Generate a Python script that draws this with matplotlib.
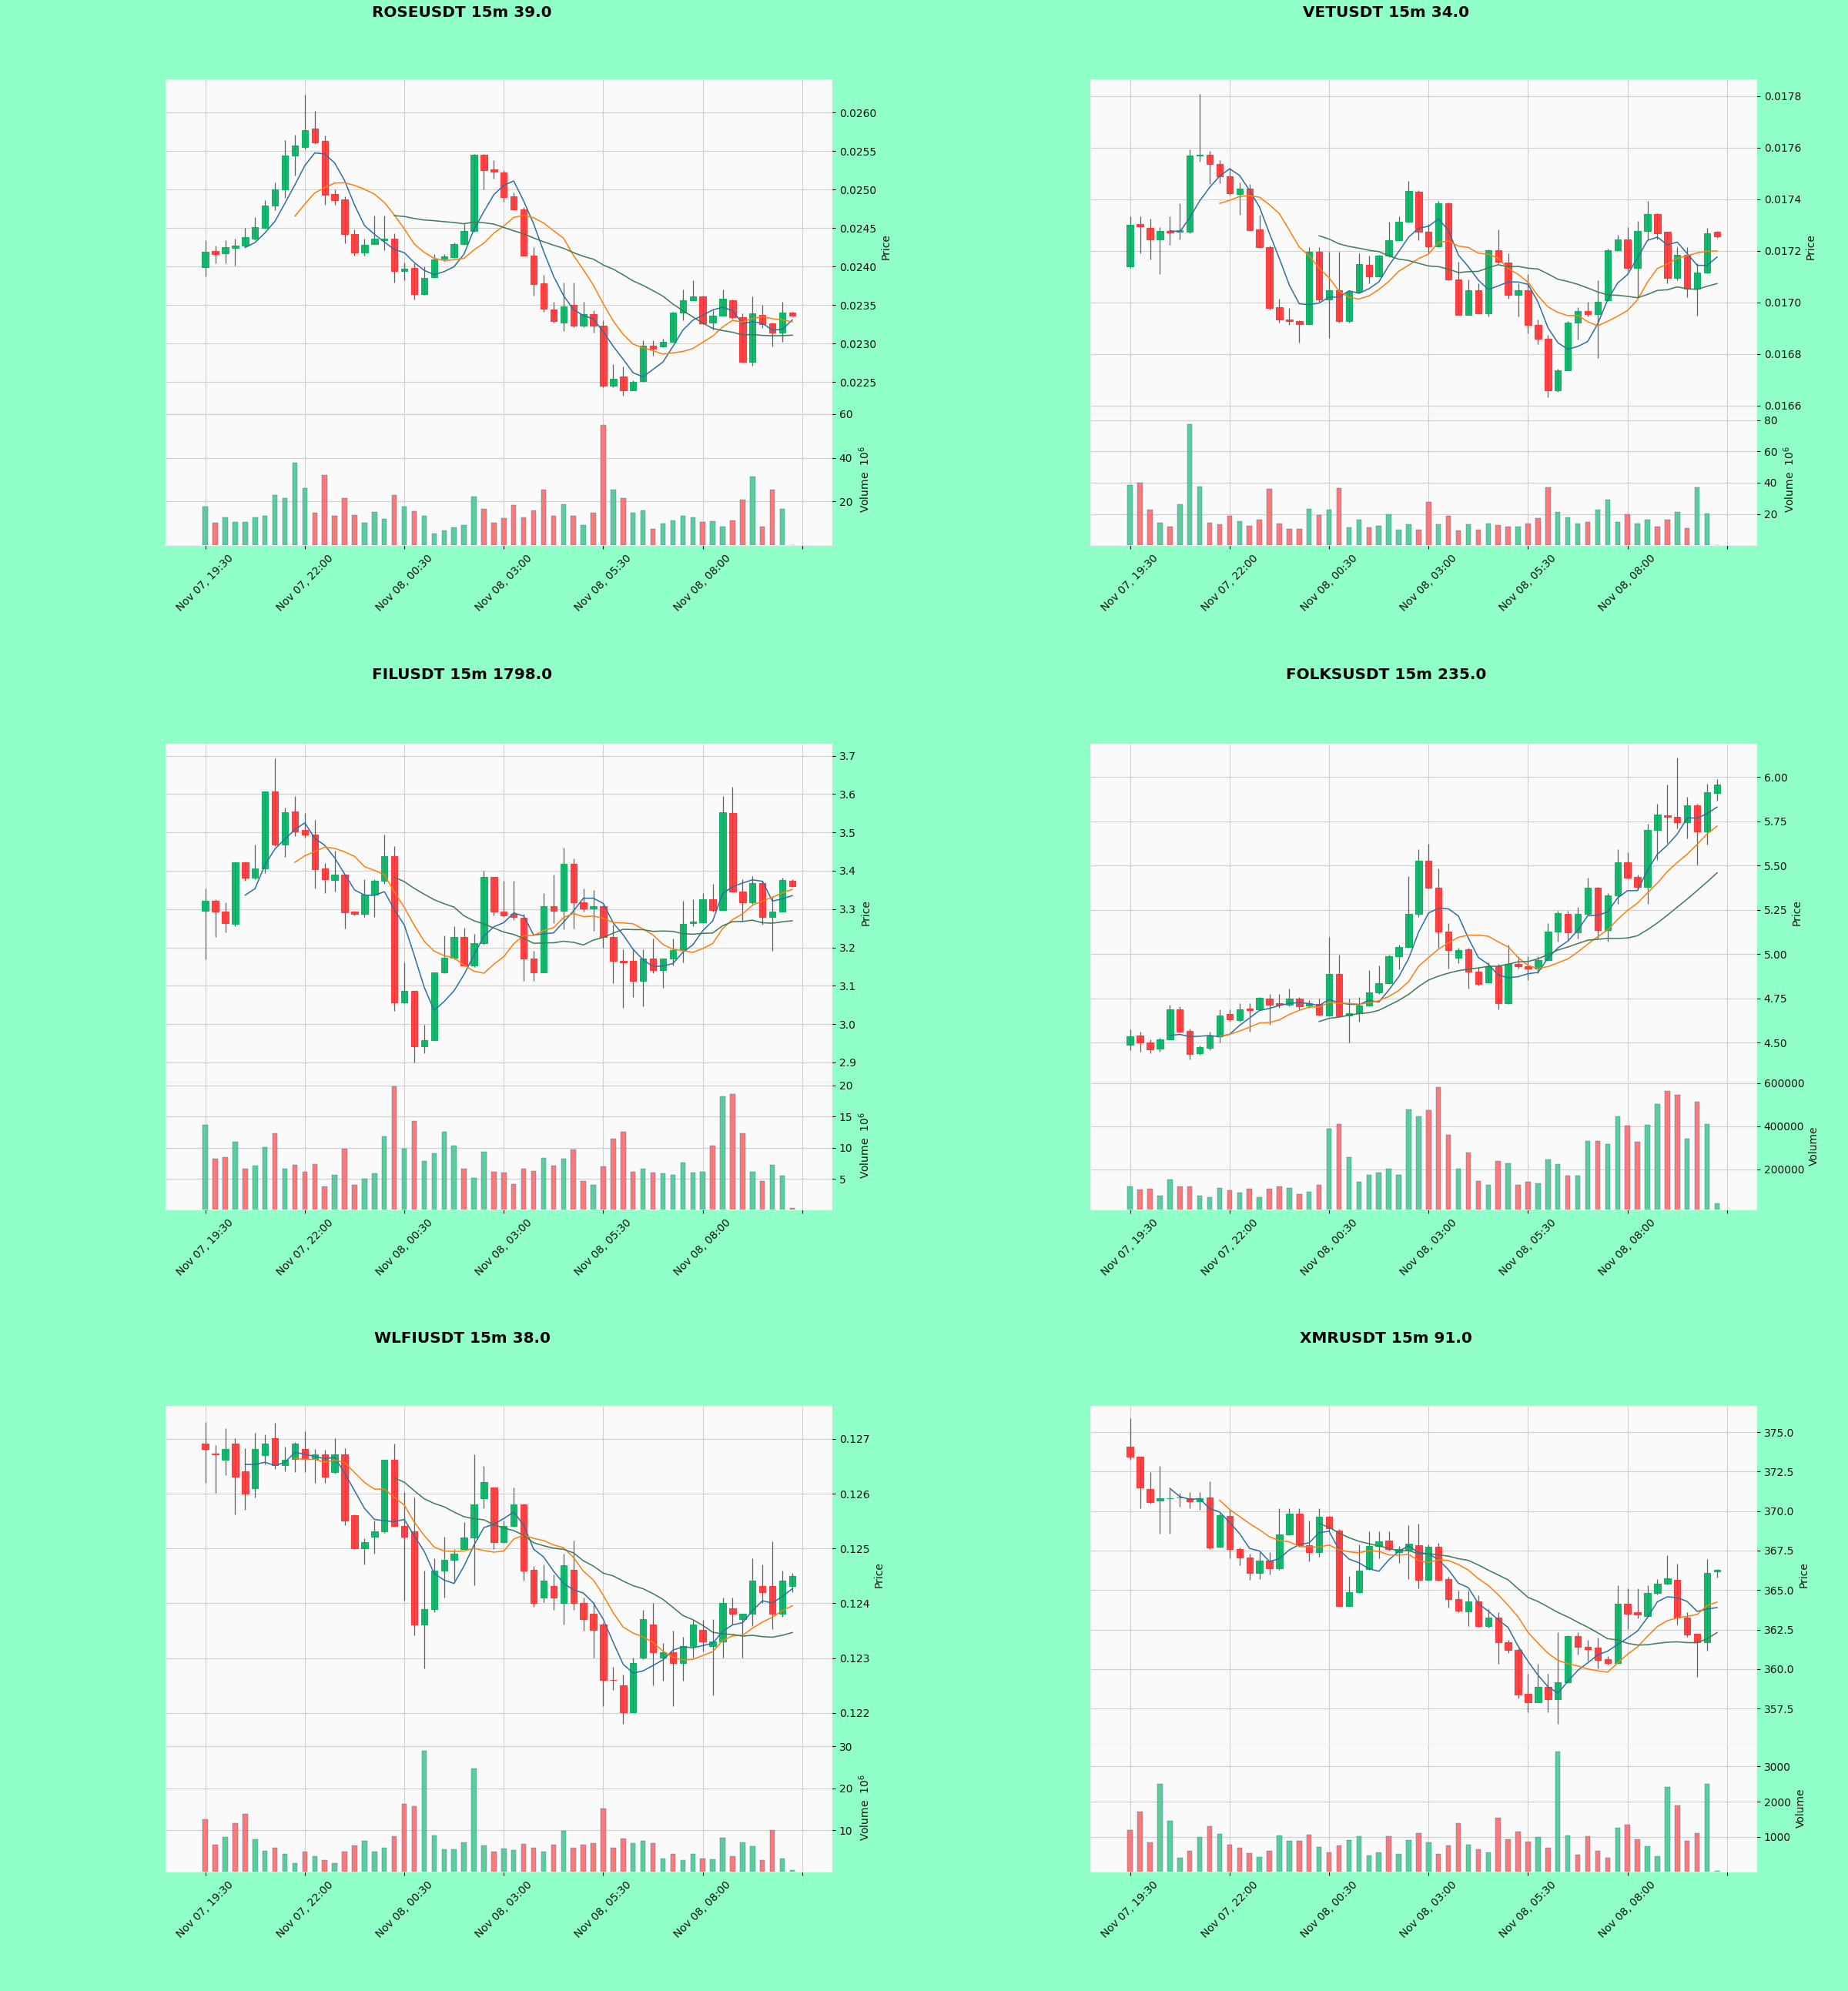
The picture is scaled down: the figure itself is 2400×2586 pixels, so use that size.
import numpy as np
import pandas as pd
import matplotlib
matplotlib.use("Agg")
import matplotlib.pyplot as plt
from matplotlib.ticker import ScalarFormatter

# ---------------- data ----------------
START = "2024-11-07 19:30"
FREQ = "15min"
N = 60

titles = ["ROSEUSDT 15m 39.0", "VETUSDT 15m 34.0", "FILUSDT 15m 1798.0",
          "FOLKSUSDT 15m 235.0", "WLFIUSDT 15m 38.0", "XMRUSDT 15m 91.0"]

rose_open = [0.02399, 0.02420, 0.02417, 0.02424, 0.02427, 0.02436, 0.02450, 0.02479, 0.02500, 0.02544, 0.02555, 0.02579, 0.02563, 0.02494, 0.02487, 0.02442, 0.02418, 0.02429, 0.02434, 0.02436, 0.02394, 0.02398, 0.02364, 0.02386, 0.02410, 0.02412, 0.02429, 0.02446, 0.02545, 0.02526, 0.02522, 0.02491, 0.02474, 0.02414, 0.02378, 0.02344, 0.02327, 0.02350, 0.02323, 0.02338, 0.02323, 0.02245, 0.02257, 0.02239, 0.02251, 0.02297, 0.02296, 0.02302, 0.02340, 0.02356, 0.02361, 0.02327, 0.02336, 0.02356, 0.02334, 0.02276, 0.02337, 0.02326, 0.02314, 0.02340]
rose_high = [0.02434, 0.02427, 0.02434, 0.02436, 0.02450, 0.02464, 0.02486, 0.02509, 0.02564, 0.02571, 0.02623, 0.02602, 0.02570, 0.02500, 0.02491, 0.02448, 0.02436, 0.02466, 0.02466, 0.02443, 0.02405, 0.02404, 0.02400, 0.02416, 0.02416, 0.02431, 0.02455, 0.02546, 0.02546, 0.02538, 0.02525, 0.02496, 0.02477, 0.02425, 0.02389, 0.02354, 0.02379, 0.02379, 0.02354, 0.02343, 0.02330, 0.02273, 0.02270, 0.02252, 0.02304, 0.02304, 0.02306, 0.02341, 0.02370, 0.02382, 0.02362, 0.02343, 0.02370, 0.02357, 0.02339, 0.02361, 0.02350, 0.02327, 0.02354, 0.02341]
rose_low = [0.02387, 0.02404, 0.02404, 0.02401, 0.02425, 0.02434, 0.02449, 0.02473, 0.02489, 0.02518, 0.02552, 0.02559, 0.02480, 0.02480, 0.02430, 0.02414, 0.02414, 0.02429, 0.02421, 0.02379, 0.02382, 0.02357, 0.02363, 0.02385, 0.02407, 0.02411, 0.02428, 0.02445, 0.02500, 0.02514, 0.02484, 0.02474, 0.02414, 0.02362, 0.02341, 0.02327, 0.02316, 0.02321, 0.02321, 0.02314, 0.02243, 0.02243, 0.02232, 0.02239, 0.02250, 0.02284, 0.02295, 0.02302, 0.02330, 0.02356, 0.02325, 0.02318, 0.02336, 0.02332, 0.02276, 0.02271, 0.02320, 0.02296, 0.02302, 0.02336]
rose_close = [0.02419, 0.02416, 0.02425, 0.02427, 0.02438, 0.02451, 0.02479, 0.02500, 0.02544, 0.02557, 0.02577, 0.02561, 0.02493, 0.02486, 0.02442, 0.02418, 0.02428, 0.02436, 0.02436, 0.02394, 0.02397, 0.02364, 0.02385, 0.02409, 0.02413, 0.02429, 0.02446, 0.02545, 0.02525, 0.02523, 0.02490, 0.02474, 0.02414, 0.02377, 0.02345, 0.02329, 0.02348, 0.02323, 0.02338, 0.02323, 0.02245, 0.02254, 0.02239, 0.02250, 0.02297, 0.02293, 0.02302, 0.02340, 0.02356, 0.02361, 0.02326, 0.02336, 0.02358, 0.02334, 0.02276, 0.02339, 0.02325, 0.02314, 0.02340, 0.02336]
rose_volume_m = [17.7, 10.3, 12.6, 10.8, 10.8, 12.9, 13.6, 22.8, 21.4, 37.7, 26.3, 15.0, 32.1, 13.6, 21.4, 13.8, 10.3, 15.3, 12.2, 22.8, 17.7, 15.6, 13.3, 5.3, 6.9, 8.0, 9.2, 22.2, 16.7, 10.3, 12.3, 18.5, 12.6, 16.0, 25.5, 13.3, 18.8, 13.3, 9.1, 15.0, 55.1, 25.3, 21.6, 14.7, 16.0, 7.4, 9.8, 11.2, 13.5, 12.6, 10.6, 10.9, 8.4, 11.2, 21.0, 31.3, 8.4, 25.5, 16.7, 0.2]

vet_open = [0.017139, 0.017304, 0.017290, 0.017245, 0.017277, 0.017273, 0.017275, 0.017569, 0.017572, 0.017537, 0.017490, 0.017420, 0.017442, 0.017284, 0.017216, 0.016982, 0.016935, 0.016927, 0.016915, 0.017198, 0.017013, 0.017048, 0.016927, 0.017041, 0.017145, 0.017101, 0.017181, 0.017242, 0.017313, 0.017428, 0.017273, 0.017218, 0.017385, 0.017090, 0.016953, 0.017048, 0.016959, 0.017202, 0.017155, 0.017030, 0.017048, 0.016912, 0.016860, 0.016661, 0.016738, 0.016923, 0.016966, 0.016956, 0.017010, 0.017204, 0.017245, 0.017133, 0.017277, 0.017343, 0.017273, 0.017096, 0.017186, 0.017053, 0.017116, 0.017273]
vet_high = [0.017334, 0.017334, 0.017324, 0.017293, 0.017334, 0.017384, 0.017594, 0.017808, 0.017588, 0.017552, 0.017523, 0.017464, 0.017458, 0.017340, 0.017220, 0.017015, 0.016980, 0.016930, 0.017214, 0.017214, 0.017198, 0.017198, 0.017045, 0.017192, 0.017181, 0.017184, 0.017313, 0.017334, 0.017470, 0.017434, 0.017304, 0.017393, 0.017387, 0.017157, 0.017089, 0.017074, 0.017207, 0.017284, 0.017192, 0.017074, 0.017110, 0.016935, 0.016874, 0.016744, 0.016927, 0.016982, 0.017004, 0.017086, 0.017210, 0.017263, 0.017293, 0.017316, 0.017393, 0.017346, 0.017275, 0.017216, 0.017216, 0.017151, 0.017289, 0.017277]
vet_low = [0.017133, 0.017192, 0.017166, 0.017110, 0.017222, 0.017245, 0.017269, 0.017546, 0.017458, 0.017461, 0.017417, 0.017340, 0.017278, 0.017214, 0.016974, 0.016923, 0.016912, 0.016844, 0.016912, 0.017004, 0.016862, 0.016923, 0.016923, 0.017039, 0.017074, 0.017100, 0.017175, 0.017240, 0.017310, 0.017242, 0.017192, 0.017216, 0.017087, 0.016951, 0.016951, 0.016957, 0.016945, 0.017151, 0.017015, 0.016945, 0.016880, 0.016838, 0.016632, 0.016655, 0.016738, 0.016856, 0.016945, 0.016785, 0.017006, 0.017202, 0.017122, 0.017021, 0.017245, 0.017245, 0.017074, 0.017086, 0.017021, 0.016950, 0.017112, 0.017250]
vet_close = [0.017302, 0.017296, 0.017245, 0.017277, 0.017271, 0.017281, 0.017570, 0.017572, 0.017537, 0.017490, 0.017422, 0.017442, 0.017281, 0.017216, 0.016980, 0.016935, 0.016927, 0.016917, 0.017198, 0.017013, 0.017048, 0.016927, 0.017041, 0.017149, 0.017101, 0.017181, 0.017242, 0.017313, 0.017431, 0.017273, 0.017218, 0.017385, 0.017090, 0.016953, 0.017048, 0.016959, 0.017202, 0.017159, 0.017030, 0.017048, 0.016912, 0.016860, 0.016661, 0.016738, 0.016923, 0.016966, 0.016956, 0.017004, 0.017204, 0.017245, 0.017133, 0.017277, 0.017343, 0.017269, 0.017096, 0.017186, 0.017053, 0.017116, 0.017269, 0.017257]
vet_volume_m = [38.3, 40.2, 22.8, 14.5, 11.8, 26.1, 77.6, 37.7, 14.5, 13.5, 18.6, 15.5, 12.2, 16.4, 35.8, 13.7, 10.3, 10.3, 23.2, 19.5, 22.8, 36.4, 11.6, 16.1, 11.2, 12.2, 19.9, 9.9, 13.2, 9.7, 27.7, 13.2, 19.0, 9.3, 13.2, 9.9, 13.7, 12.8, 11.8, 11.8, 14.1, 17.4, 36.9, 21.3, 17.6, 13.7, 14.7, 22.8, 29.2, 14.7, 19.9, 13.7, 16.1, 11.8, 16.1, 21.3, 10.8, 36.9, 20.5, 0.3]

fil_open = [3.296, 3.322, 3.294, 3.261, 3.422, 3.381, 3.407, 3.607, 3.468, 3.554, 3.507, 3.494, 3.407, 3.376, 3.389, 3.293, 3.288, 3.338, 3.373, 3.438, 3.056, 3.087, 2.942, 2.958, 3.135, 3.173, 3.228, 3.153, 3.212, 3.383, 3.293, 3.287, 3.277, 3.172, 3.135, 3.308, 3.296, 3.419, 3.318, 3.301, 3.308, 3.228, 3.166, 3.165, 3.113, 3.171, 3.141, 3.171, 3.194, 3.263, 3.265, 3.326, 3.298, 3.550, 3.346, 3.318, 3.367, 3.279, 3.294, 3.373]
fil_high = [3.354, 3.326, 3.318, 3.422, 3.422, 3.468, 3.607, 3.694, 3.564, 3.595, 3.550, 3.532, 3.420, 3.452, 3.389, 3.295, 3.377, 3.377, 3.495, 3.464, 3.161, 3.087, 2.999, 3.135, 3.231, 3.255, 3.251, 3.235, 3.399, 3.383, 3.373, 3.373, 3.287, 3.192, 3.342, 3.389, 3.460, 3.432, 3.354, 3.350, 3.310, 3.259, 3.196, 3.196, 3.196, 3.224, 3.171, 3.224, 3.322, 3.326, 3.342, 3.365, 3.594, 3.619, 3.377, 3.385, 3.373, 3.334, 3.381, 3.377]
fil_low = [3.169, 3.228, 3.239, 3.255, 3.373, 3.377, 3.393, 3.464, 3.436, 3.491, 3.487, 3.354, 3.342, 3.346, 3.249, 3.283, 3.279, 3.279, 3.365, 3.035, 3.054, 2.901, 2.924, 2.958, 3.133, 3.169, 3.151, 3.149, 3.208, 3.283, 3.279, 3.271, 3.113, 3.113, 3.135, 3.263, 3.247, 3.249, 3.294, 3.243, 3.200, 3.106, 3.043, 3.070, 3.046, 3.133, 3.094, 3.153, 3.161, 3.255, 3.263, 3.294, 3.298, 3.346, 3.267, 3.314, 3.259, 3.192, 3.294, 3.357]
fil_close = [3.322, 3.294, 3.263, 3.422, 3.381, 3.407, 3.607, 3.468, 3.552, 3.503, 3.495, 3.405, 3.377, 3.389, 3.291, 3.288, 3.338, 3.373, 3.438, 3.056, 3.087, 2.942, 2.958, 3.135, 3.173, 3.228, 3.153, 3.212, 3.383, 3.293, 3.283, 3.279, 3.172, 3.135, 3.308, 3.296, 3.419, 3.318, 3.301, 3.308, 3.228, 3.165, 3.162, 3.113, 3.171, 3.141, 3.171, 3.194, 3.261, 3.267, 3.326, 3.298, 3.553, 3.346, 3.318, 3.367, 3.279, 3.294, 3.376, 3.360]
fil_volume_m = [13.7, 8.2, 8.5, 11.0, 6.7, 7.1, 10.1, 12.3, 6.7, 7.2, 6.2, 7.4, 3.8, 5.6, 9.8, 4.0, 5.0, 5.9, 11.8, 19.9, 9.9, 14.3, 7.9, 9.1, 12.6, 10.4, 6.7, 5.2, 9.4, 6.1, 6.0, 4.2, 6.6, 6.3, 8.4, 7.1, 8.2, 9.7, 4.7, 4.1, 7.0, 11.4, 12.6, 6.1, 6.6, 6.0, 5.9, 5.7, 7.6, 6.0, 6.1, 10.4, 18.2, 18.6, 12.3, 6.1, 4.6, 7.2, 5.5, 0.3]

folks_open = [4.486, 4.538, 4.500, 4.466, 4.517, 4.688, 4.568, 4.440, 4.471, 4.534, 4.662, 4.628, 4.691, 4.688, 4.747, 4.722, 4.713, 4.747, 4.708, 4.717, 4.653, 4.887, 4.653, 4.667, 4.710, 4.781, 4.836, 4.989, 5.040, 5.228, 5.526, 5.374, 5.126, 4.977, 5.028, 4.901, 4.841, 4.931, 4.722, 4.943, 4.931, 4.918, 4.965, 5.126, 5.228, 5.122, 5.228, 5.374, 5.134, 5.330, 5.518, 5.437, 5.378, 5.702, 5.784, 5.773, 5.744, 5.841, 5.693, 5.910]
folks_high = [4.573, 4.563, 4.517, 4.526, 4.713, 4.705, 4.580, 4.483, 4.560, 4.688, 4.688, 4.722, 4.722, 4.756, 4.773, 4.773, 4.807, 4.756, 4.739, 4.747, 5.097, 4.994, 4.747, 4.756, 4.909, 4.935, 4.994, 5.054, 5.438, 5.591, 5.620, 5.484, 5.173, 5.037, 5.037, 4.926, 4.952, 4.943, 5.054, 4.989, 4.986, 4.989, 5.173, 5.242, 5.242, 5.267, 5.432, 5.378, 5.344, 5.591, 5.574, 5.449, 5.736, 5.847, 5.957, 6.107, 5.889, 5.847, 5.961, 5.986]
folks_low = [4.457, 4.449, 4.440, 4.449, 4.517, 4.560, 4.406, 4.432, 4.457, 4.500, 4.624, 4.619, 4.560, 4.688, 4.602, 4.696, 4.705, 4.688, 4.696, 4.653, 4.648, 4.645, 4.500, 4.619, 4.705, 4.773, 4.832, 4.914, 5.037, 5.207, 5.369, 5.037, 4.918, 4.948, 4.807, 4.824, 4.836, 4.688, 4.718, 4.918, 4.853, 4.892, 4.960, 5.071, 5.074, 5.088, 5.221, 5.088, 5.071, 5.284, 5.426, 5.361, 5.284, 5.531, 5.625, 5.710, 5.651, 5.506, 5.617, 5.864]
folks_close = [4.534, 4.500, 4.463, 4.517, 4.688, 4.563, 4.437, 4.474, 4.538, 4.653, 4.631, 4.688, 4.682, 4.751, 4.713, 4.713, 4.747, 4.705, 4.722, 4.659, 4.887, 4.648, 4.667, 4.710, 4.781, 4.836, 4.989, 5.040, 5.228, 5.526, 5.374, 5.126, 5.023, 5.023, 4.901, 4.832, 4.931, 4.722, 4.943, 4.931, 4.918, 4.965, 5.126, 5.233, 5.122, 5.228, 5.374, 5.134, 5.330, 5.518, 5.432, 5.378, 5.702, 5.787, 5.773, 5.744, 5.838, 5.693, 5.915, 5.957]
folks_volume = [121000, 107000, 111000, 79000, 154000, 121000, 121000, 79000, 69000, 114000, 103000, 90000, 110000, 69000, 111000, 121000, 114000, 83000, 96000, 126000, 389000, 411000, 257000, 143000, 174000, 186000, 203000, 174000, 479000, 446000, 474000, 583000, 360000, 203000, 276000, 146000, 126000, 239000, 229000, 129000, 140000, 136000, 246000, 224000, 171000, 171000, 331000, 331000, 317000, 446000, 403000, 329000, 407000, 504000, 564000, 547000, 343000, 514000, 410000, 43000]

wlfi_open = [0.126917, 0.126730, 0.126614, 0.126917, 0.126410, 0.126101, 0.126708, 0.127017, 0.126515, 0.126631, 0.126818, 0.126631, 0.126713, 0.126394, 0.126724, 0.125605, 0.124999, 0.125208, 0.125308, 0.126614, 0.125412, 0.125308, 0.123610, 0.123896, 0.124602, 0.124795, 0.124988, 0.125197, 0.125914, 0.126107, 0.125109, 0.125412, 0.125804, 0.124613, 0.124106, 0.124310, 0.124006, 0.124613, 0.124006, 0.123802, 0.123610, 0.122606, 0.122496, 0.122011, 0.123003, 0.123610, 0.123003, 0.123102, 0.122904, 0.123213, 0.123510, 0.123213, 0.123306, 0.123913, 0.123709, 0.123802, 0.124310, 0.124310, 0.123802, 0.124315]
wlfi_high = [0.127303, 0.126890, 0.127193, 0.127017, 0.126835, 0.127110, 0.127083, 0.127292, 0.126862, 0.126945, 0.127138, 0.126818, 0.126807, 0.127017, 0.126835, 0.125622, 0.125181, 0.125511, 0.126614, 0.126917, 0.126036, 0.125925, 0.124602, 0.124822, 0.125208, 0.124988, 0.125484, 0.126724, 0.126504, 0.126118, 0.125511, 0.126118, 0.125815, 0.124685, 0.124712, 0.124519, 0.124905, 0.125142, 0.124106, 0.124023, 0.123637, 0.122838, 0.122700, 0.123003, 0.123885, 0.124006, 0.123278, 0.123499, 0.123389, 0.123692, 0.123692, 0.123709, 0.124106, 0.124106, 0.123802, 0.124822, 0.124712, 0.125126, 0.124591, 0.124547]
wlfi_low = [0.126200, 0.126010, 0.126338, 0.125622, 0.125704, 0.125925, 0.126531, 0.126449, 0.126410, 0.126394, 0.126394, 0.126201, 0.126201, 0.126366, 0.125429, 0.124988, 0.124712, 0.124905, 0.125291, 0.125401, 0.124051, 0.123417, 0.122810, 0.123830, 0.124106, 0.124409, 0.124988, 0.124326, 0.125732, 0.124988, 0.125098, 0.125401, 0.124409, 0.123940, 0.124023, 0.123885, 0.123610, 0.123885, 0.123499, 0.123003, 0.122121, 0.122424, 0.121801, 0.122011, 0.122975, 0.122507, 0.122590, 0.122121, 0.122590, 0.123003, 0.123113, 0.122314, 0.123003, 0.123610, 0.123003, 0.123582, 0.124006, 0.123527, 0.123747, 0.124205]
wlfi_close = [0.126818, 0.126720, 0.126818, 0.126311, 0.126008, 0.126818, 0.126917, 0.126515, 0.126614, 0.126917, 0.126631, 0.126724, 0.126311, 0.126724, 0.125511, 0.124999, 0.125109, 0.125308, 0.126614, 0.125412, 0.125208, 0.123610, 0.123896, 0.124602, 0.124795, 0.124905, 0.125197, 0.125798, 0.126212, 0.125109, 0.125412, 0.125804, 0.124602, 0.124006, 0.124409, 0.124106, 0.124701, 0.124006, 0.123709, 0.123510, 0.122606, 0.122595, 0.122011, 0.122904, 0.123709, 0.123102, 0.123102, 0.122904, 0.123213, 0.123610, 0.123306, 0.123306, 0.124006, 0.123802, 0.123802, 0.124409, 0.124205, 0.123802, 0.124409, 0.124503]
wlfi_volume_m = [12.6, 6.5, 8.3, 11.7, 13.8, 7.8, 5.1, 5.9, 4.4, 2.2, 4.9, 3.8, 2.8, 2.2, 4.9, 6.3, 7.4, 4.9, 5.9, 8.5, 16.2, 15.8, 29.0, 8.8, 5.4, 5.4, 7.1, 24.8, 6.4, 4.9, 5.6, 5.3, 6.7, 5.9, 4.9, 6.5, 9.9, 5.8, 6.5, 7.0, 15.1, 5.9, 8.0, 7.0, 7.4, 6.9, 3.3, 4.4, 2.9, 4.4, 3.3, 3.1, 8.2, 3.8, 7.1, 6.2, 2.9, 10.0, 3.2, 0.4]

xmr_open = [374.08, 373.45, 371.41, 370.69, 370.80, 370.85, 370.80, 370.61, 370.88, 367.75, 369.69, 367.60, 367.08, 366.11, 366.87, 366.39, 368.51, 369.83, 367.82, 367.40, 369.66, 368.78, 364.01, 364.87, 366.35, 367.79, 368.13, 367.40, 367.56, 367.82, 365.65, 367.75, 365.69, 364.45, 363.63, 364.26, 362.73, 363.24, 361.72, 361.20, 358.44, 357.90, 358.86, 358.09, 359.16, 362.10, 361.39, 361.34, 360.63, 360.38, 364.16, 363.59, 363.36, 364.83, 365.40, 365.65, 363.24, 362.25, 361.68, 366.16]
xmr_high = [375.90, 373.45, 372.46, 372.84, 371.41, 371.13, 371.22, 371.22, 371.89, 369.88, 370.07, 367.69, 367.31, 367.40, 367.40, 370.17, 370.17, 370.17, 369.41, 370.17, 369.69, 368.84, 365.88, 367.88, 368.74, 368.74, 368.74, 367.79, 369.12, 369.22, 367.88, 367.98, 365.84, 364.96, 364.96, 364.68, 363.78, 363.59, 361.87, 361.30, 359.68, 360.34, 359.68, 362.35, 362.16, 362.35, 361.87, 361.97, 360.82, 365.31, 365.11, 365.11, 365.31, 365.69, 367.21, 366.68, 363.59, 362.25, 366.98, 366.35]
xmr_low = [373.23, 370.17, 370.46, 368.59, 368.59, 370.27, 370.17, 370.08, 367.60, 367.69, 367.02, 366.55, 365.65, 365.69, 365.97, 366.26, 368.45, 367.75, 366.83, 367.11, 368.74, 363.97, 363.97, 364.83, 366.26, 367.02, 367.50, 366.74, 365.69, 365.11, 365.59, 365.59, 363.91, 363.59, 362.73, 362.67, 362.63, 360.34, 361.01, 358.15, 357.29, 358.79, 357.25, 356.56, 359.10, 360.92, 360.53, 360.06, 360.31, 360.34, 362.54, 363.21, 363.30, 364.73, 365.34, 362.82, 362.06, 359.49, 361.15, 365.78]
xmr_close = [373.45, 371.51, 370.59, 370.80, 370.82, 370.88, 370.61, 370.80, 367.69, 369.73, 367.60, 367.08, 366.11, 366.87, 366.39, 368.51, 369.83, 367.82, 367.40, 369.66, 368.89, 364.01, 364.87, 366.22, 367.79, 368.07, 367.60, 367.60, 367.94, 365.65, 367.75, 365.65, 364.45, 363.68, 364.26, 362.73, 363.24, 361.72, 361.20, 358.40, 357.90, 358.86, 358.09, 359.16, 362.10, 361.39, 361.26, 360.57, 360.38, 364.16, 363.49, 363.44, 364.83, 365.40, 365.73, 363.24, 362.21, 361.68, 366.11, 366.26]
xmr_volume = [1191, 1719, 851, 2502, 1447, 400, 596, 996, 1311, 1081, 783, 681, 528, 426, 613, 1038, 885, 885, 1055, 723, 570, 766, 911, 1021, 468, 553, 1021, 511, 911, 1098, 851, 511, 766, 1379, 783, 655, 570, 1532, 936, 1149, 868, 996, 698, 3421, 1038, 502, 1021, 613, 400, 1268, 1353, 936, 740, 443, 2425, 1889, 894, 1098, 2502, 43]

mav_periods = [5, 10, 20]

# ---------------- style ----------------
BG = "#90ffc8"
FACE = "#fafafa"
GRID = "#d0d0d0"
UP, DOWN = "#00b060", "#fe3032"
VUP, VDOWN = "#4dc790", "#fd6b6c"
WICK = "#606060"
MAV_COLORS = ["#2f6f9f", "#ff7f0e", "#3f7a55"]
TXT = "#101010"

W, H = 2400, 2586
fig = plt.figure(figsize=(W / 100, H / 100), dpi=100, facecolor=BG)

COL_X = [215, 1416]
AX_W = 865
ROWS = [(103, 537, 708), (966, 1405, 1571), (1826, 2265, 2431)]
TITLE_Y = [16, 877, 1739]
TITLE_X = [0.25, 0.75]

times = pd.date_range(START, periods=N, freq=FREQ)
tick_idx = list(range(0, 61, 10))
tick_lbls = [times[i].strftime("%b %d, %H:%M") if i < N else "" for i in tick_idx]

panels = [
    (rose_open, rose_high, rose_low, rose_close, rose_volume_m, (0.022094, 0.026434), 60.3, "Volume  $10^{6}$"),
    (vet_open, vet_high, vet_low, vet_close, vet_volume_m, (0.016570, 0.017865), 84.3, "Volume  $10^{6}$"),
    (fil_open, fil_high, fil_low, fil_close, fil_volume_m, (2.8498, 3.7313), 20.6, "Volume  $10^{6}$"),
    (folks_open, folks_high, folks_low, folks_close, folks_volume, (4.279, 6.187), 607000, "Volume"),
    (wlfi_open, wlfi_high, wlfi_low, wlfi_close, wlfi_volume_m, (0.121433, 0.127604), 30.6, "Volume  $10^{6}$"),
    (xmr_open, xmr_high, xmr_low, xmr_close, xmr_volume, (355.27, 376.66), 3640, "Volume"),
]


def style_axis(ax):
    ax.set_facecolor(FACE)
    ax.grid(True, color=GRID, linestyle="-", linewidth=0.8)
    ax.set_axisbelow(True)
    for s in ax.spines.values():
        s.set_color("#f0f0f0")
    ax.yaxis.tick_right()
    ax.yaxis.set_label_position("right")
    ax.tick_params(colors=TXT, labelsize=10)


for k, (o, h, l, c, v, plim, vtop, vlabel) in enumerate(panels):
    row, col = divmod(k, 2)
    top, mid, bot = ROWS[row]
    x0 = COL_X[col]
    axp = fig.add_axes([x0 / W, 1 - mid / H, AX_W / W, (mid - top) / H])
    axv = fig.add_axes([x0 / W, 1 - bot / H, AX_W / W, (bot - mid) / H], sharex=axp)
    style_axis(axp)
    style_axis(axv)

    o = np.array(o); h = np.array(h); l = np.array(l); c = np.array(c); v = np.array(v)
    x = np.arange(len(o))
    up = c >= o
    body_col = np.where(up, UP, DOWN)

    axp.vlines(x, l, h, color=WICK, linewidth=0.9, zorder=2)
    axp.bar(x, np.abs(c - o), bottom=np.minimum(o, c), width=0.65, color=body_col,
            edgecolor=body_col, linewidth=0.8, alpha=0.9, zorder=3)
    cs = pd.Series(c)
    for p, mc in zip(mav_periods, MAV_COLORS):
        axp.plot(x, cs.rolling(p).mean(), color=mc, linewidth=1.1, zorder=4)

    axp.set_ylim(*plim)
    fmt = ScalarFormatter(useOffset=False)
    axp.yaxis.set_major_formatter(fmt)
    axp.set_ylabel("Price", fontsize=10, color=TXT)
    axp.tick_params(axis="x", labelbottom=False, bottom=False)

    vol_col = np.where(up, VUP, VDOWN)
    axv.bar(x, v, width=0.5, color=vol_col, edgecolor="#1f77b4", linewidth=0.3, alpha=0.9, zorder=3)
    axv.set_ylim(0.3 * v.min(), vtop)
    axv.set_ylabel(vlabel, fontsize=10, color=TXT)

    axv.set_xlim(-4.0, 62.95)
    axv.set_xticks(tick_idx)
    axv.set_xticklabels(tick_lbls, rotation=45, ha="center", fontsize=10, color=TXT)

    fig.text(TITLE_X[col], 1 - TITLE_Y[row] / H, titles[k], ha="center", va="center",
             fontsize=14.4, fontweight="bold", color="black")

fig.savefig("out.png", dpi=100, facecolor=BG)
